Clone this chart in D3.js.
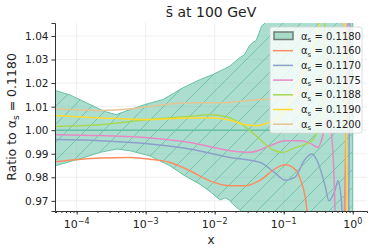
<!DOCTYPE html>
<meta charset="utf-8">
<script src="https://d3js.org/d3.v7.min.js"></script>
<style>
  body { margin: 0; background: #fff; }
  text { font-family: "DejaVu Sans", sans-serif; fill: #222; }
</style>
<body>
  <div id="container"></div>
</body>
<script>
    // values, x given as log10(x)
    var alphaLabels = ["0.1180", "0.1160", "0.1170", "0.1175", "0.1188", "0.1190", "0.1200"];
    var colors = ["#66c2a5", "#fc8d62", "#8da0cb", "#e78ac3", "#a6d854", "#ffd92f", "#e5c494"];

    var bandUpX = [-4.31, -4.1, -3.85, -3.6, -3.43, -3.23, -3.0, -2.75, -2.46, -2.21, -2.03, -1.86, -1.78, -1.64, -1.57, -1.50, -1.45, -1.40, -1.32, -1.27, -1.1, 0];
    var bandUpY = [1.0168, 1.015, 1.0115, 1.008, 1.0066, 1.0087, 1.011, 1.013, 1.018, 1.0215, 1.0236, 1.026, 1.0272, 1.0307, 1.032, 1.0357, 1.0372, 1.038, 1.0442, 1.0455, 1.06, 1.08];
    var bandLoX = [-4.31, -3.95, -3.66, -3.42, -3.23, -2.94, -2.65, -2.43, -2.21, -2.07, -1.92, -1.85, -1.78, -1.74, -1.63, -1.5, -1.2, 0];
    var bandLoY = [0.9849, 0.9879, 0.9906, 0.992, 0.9913, 0.9891, 0.9849, 0.9806, 0.977, 0.974, 0.9704, 0.9713, 0.9702, 0.9687, 0.966, 0.962, 0.94, 0.94];

    var centralX = [-4.31, 0];
    var centralY = [1.0, 1.0];

    var orangeX = [-4.31, -3.66, -3.23, -2.94, -2.65, -2.36, -2.07, -1.78, -1.56, -1.34, -1.13, -0.98, -0.84, -0.76, -0.69, -0.63, -0.14, -0.11, -0.07];
    var orangeY = [0.9866, 0.9882, 0.9884, 0.9877, 0.9863, 0.9828, 0.9785, 0.9764, 0.9764, 0.9788, 0.9835, 0.9853, 0.9835, 0.9794, 0.972, 0.960, 0.950, 0.980, 1.05];

    var blueX = [-4.31, -3.66, -2.94, -2.36, -1.78, -1.34, -1.13, -0.98, -0.84, -0.69, -0.59, -0.50, -0.40, -0.345, -0.257, -0.213, -0.17, -0.126, -0.06, -0.04];
    var blueY = [0.9960, 0.9955, 0.9941, 0.992, 0.9884, 0.9863, 0.982, 0.9788, 0.980, 0.9877, 0.9899, 0.986, 0.9764, 0.970, 0.9745, 0.9785, 0.972, 0.955, 0.955, 1.05];

    var pinkX = [-4.31, -3.66, -2.94, -2.36, -1.78, -1.49, -1.20, -0.98, -0.76, -0.62, -0.50, -0.445, -0.372, -0.33, -0.285, -0.24, -0.11, -0.07];
    var pinkY = [0.9981, 0.9977, 0.9967, 0.9948, 0.9913, 0.9906, 0.9934, 0.9955, 0.9955, 0.9945, 0.9927, 0.9965, 1.005, 1.003, 0.990, 0.960, 0.960, 1.06];

    var limeX = [-4.31, -3.66, -2.94, -2.36, -2.07, -1.85, -1.63, -1.39, -1.16, -1.01, -0.84, -0.59, -0.47, -0.43, -0.40];
    var limeY = [1.0016, 1.0023, 1.0045, 1.0059, 1.0066, 1.0059, 1.003, 0.9974, 0.9917, 0.9906, 0.9925, 0.9955, 1.005, 1.02, 1.05];

    var yellowX = [-4.31, -3.66, -2.94, -2.36, -2.0, -1.71, -1.59, -1.39, -1.24, -1.05, -0.9, -0.75, -0.60, -0.48, -0.40, -0.12, -0.09, -0.07];
    var yellowY = [1.0062, 1.0052, 1.0045, 1.0052, 1.0052, 1.0037, 1.0025, 1.0019, 1.003, 1.0059, 1.012, 1.022, 1.033, 1.045, 1.06, 1.06, 0.987, 0.95];

    var tanX = [-4.31, -3.66, -3.23, -2.94, -2.36, -1.93, -1.63, -1.34, -1.1, -0.76, -0.47, -0.26, -0.11];
    var tanY = [1.009, 1.0084, 1.009, 1.0101, 1.0116, 1.0116, 1.0123, 1.013, 1.0135, 1.016, 1.02, 1.03, 1.05];

    var yTicks = [0.97, 0.98, 0.99, 1.00, 1.01, 1.02, 1.03, 1.04];
    var xTicks = [-4, -3, -2, -1, 0];

    var W = 374, H = 252;
    var margin = {top: 23, right: 7, bottom: 41, left: 55};

    var svg = d3.select("#container")
      .append("svg")
      .attr("width", W)
      .attr("height", H);

    var x = d3.scaleLog()
      .domain([4.85e-5, 1.61])
      .range([margin.left, W - margin.right]);
    var y = d3.scaleLinear()
      .domain([0.9657, 1.0455])
      .range([H - margin.bottom, margin.top]);

    function pts(xs, ys) {
      return xs.map(function (lx, i) { return [Math.pow(10, lx), ys[i]]; });
    }

    var defs = svg.append("defs");
    defs.append("clipPath").attr("id", "clip")
      .append("rect")
      .attr("x", margin.left).attr("y", margin.top)
      .attr("width", W - margin.left - margin.right)
      .attr("height", H - margin.bottom - margin.top);

    var hatch = defs.append("pattern")
      .attr("id", "hatch")
      .attr("patternUnits", "userSpaceOnUse")
      .attr("width", 18).attr("height", 18);
    hatch.append("path")
      .attr("d", "M-4,4 l8,-8 M0,18 l18,-18 M14,22 l8,-8")
      .attr("stroke", "#5cb898")
      .attr("stroke-width", 0.7);

    // grid
    var grid = svg.append("g");
    grid.selectAll("line.gy").data(yTicks).enter().append("line")
      .attr("x1", margin.left).attr("x2", W - margin.right)
      .attr("y1", function (d) { return y(d); })
      .attr("y2", function (d) { return y(d); })
      .attr("stroke", "#ebebeb").attr("stroke-width", 0.8);
    grid.selectAll("line.gx").data(xTicks).enter().append("line")
      .attr("y1", margin.top).attr("y2", H - margin.bottom)
      .attr("x1", function (d) { return x(Math.pow(10, d)); })
      .attr("x2", function (d) { return x(Math.pow(10, d)); })
      .attr("stroke", "#ebebeb").attr("stroke-width", 0.8);

    var plot = svg.append("g").attr("clip-path", "url(#clip)");

    var line = d3.line()
      .x(function (d) { return x(d[0]); })
      .y(function (d) { return y(d[1]); })
      .curve(d3.curveMonotoneX);
    var poly = d3.line()
      .x(function (d) { return x(d[0]); })
      .y(function (d) { return y(d[1]); });

    // uncertainty band
    var band = pts(bandUpX, bandUpY).concat(pts(bandLoX, bandLoY).reverse());
    plot.append("path")
      .attr("d", poly(band) + "Z")
      .attr("fill", "#66c2a5").attr("fill-opacity", 0.55)
      .attr("stroke", "none");
    plot.append("path")
      .attr("d", poly(band) + "Z")
      .attr("fill", "url(#hatch)")
      .attr("stroke", "#66c2a5").attr("stroke-width", 1);

    var series = [
      [centralX, centralY],
      [orangeX, orangeY],
      [blueX, blueY],
      [pinkX, pinkY],
      [limeX, limeY],
      [yellowX, yellowY],
      [tanX, tanY]
    ];
    series.forEach(function (s, i) {
      plot.append("path")
        .attr("d", line(pts(s[0], s[1])))
        .attr("fill", "none")
        .attr("stroke", colors[i])
        .attr("stroke-width", 1.5);
    });

    // axes
    var yAxis = svg.append("g")
      .attr("transform", "translate(" + margin.left + ",0)")
      .call(d3.axisLeft(y).tickValues(yTicks).tickFormat(d3.format(".2f")).tickSize(3.5).tickPadding(3));
    var xAxis = svg.append("g")
      .attr("transform", "translate(0," + (H - margin.bottom) + ")")
      .call(d3.axisBottom(x).ticks(40).tickFormat("").tickSize(2));
    svg.append("g")
      .attr("transform", "translate(0," + (H - margin.bottom) + ")")
      .call(d3.axisBottom(x).tickValues(xTicks.map(function (d) { return Math.pow(10, d); }))
        .tickFormat("").tickSize(3.5))
      .select(".domain").remove();
    [yAxis, xAxis].forEach(function (a) {
      a.selectAll(".domain").attr("stroke", "#333");
    });
    svg.selectAll(".tick line").attr("stroke", "#333");
    yAxis.selectAll("text").attr("font-size", 10.5).attr("fill", "#222")
      .attr("font-family", "DejaVu Sans");

    var xl = svg.append("g").selectAll("text").data(xTicks).enter().append("text")
      .attr("x", function (d) { return x(Math.pow(10, d)); })
      .attr("y", H - margin.bottom + 17)
      .attr("text-anchor", "middle")
      .attr("font-size", 11);
    xl.append("tspan").text("10");
    xl.append("tspan").attr("dy", -4.5).attr("font-size", 8)
      .text(function (d) { return d === 0 ? "0" : "\u2212" + (-d); });

    // labels
    svg.append("text")
      .attr("x", (margin.left + W - margin.right) / 2)
      .attr("y", 17)
      .attr("text-anchor", "middle")
      .attr("font-size", 14)
      .text("s\u0304 at 100 GeV");
    svg.append("text")
      .attr("x", (margin.left + W - margin.right) / 2)
      .attr("y", 244)
      .attr("text-anchor", "middle")
      .attr("font-size", 12)
      .text("x");
    var yl = svg.append("text")
      .attr("transform", "translate(16," + ((margin.top + H - margin.bottom) / 2) + ") rotate(-90)")
      .attr("text-anchor", "middle")
      .attr("font-size", 12.5);
    yl.append("tspan").text("Ratio to \u03b1");
    yl.append("tspan").attr("dy", 3).attr("font-size", 9).text("s");
    yl.append("tspan").attr("dy", -3).text(" = 0.1180");

    // legend
    var lg = svg.append("g");
    lg.append("rect")
      .attr("x", 270).attr("y", 27).attr("width", 92).attr("height", 106)
      .attr("rx", 2)
      .attr("fill", "#fff").attr("fill-opacity", 0.8)
      .attr("stroke", "#d5d5d5").attr("stroke-width", 0.8);
    alphaLabels.forEach(function (lab, i) {
      var cy = 36 + i * 14.7;
      if (i === 0) {
        lg.append("rect")
          .attr("x", 274).attr("y", cy - 4).attr("width", 19).attr("height", 7.5)
          .attr("fill", "#a8dcc9").attr("stroke", "#6f7d76").attr("stroke-width", 1.5);
      } else {
        lg.append("line")
          .attr("x1", 273).attr("x2", 293).attr("y1", cy).attr("y2", cy)
          .attr("stroke", colors[i]).attr("stroke-width", 1.5);
      }
      var t = lg.append("text")
        .attr("x", 301).attr("y", cy + 3.5)
        .attr("font-size", 10);
      t.append("tspan").text("\u03b1");
      t.append("tspan").attr("dy", 2.5).attr("font-size", 7).text("s");
      t.append("tspan").attr("dy", -2.5).text(" = " + lab);
    });
</script>
